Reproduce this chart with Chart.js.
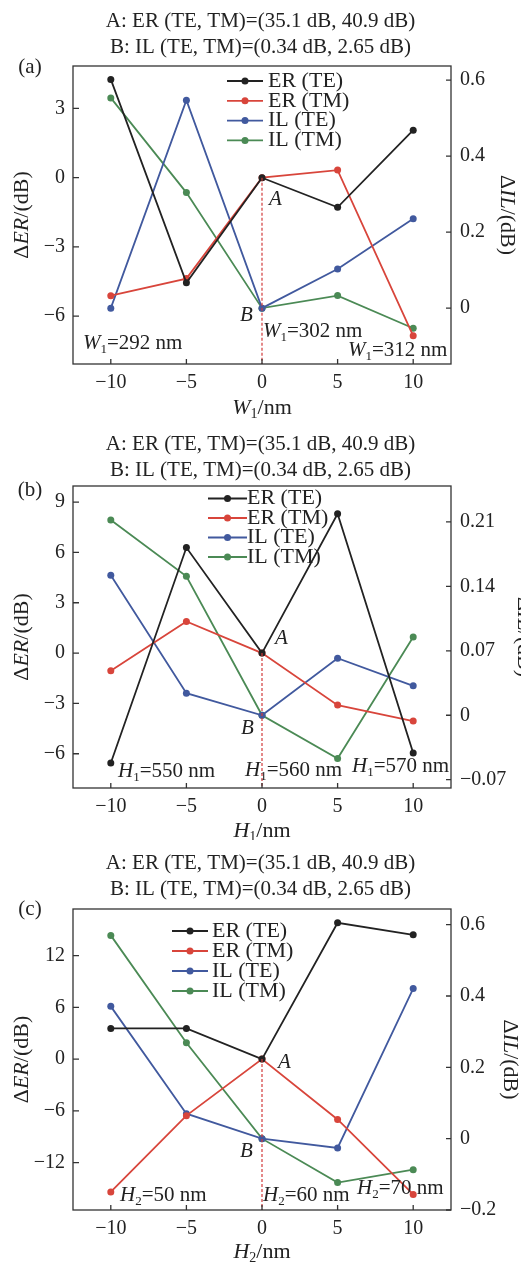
<!DOCTYPE html>
<html>
<head>
<meta charset="utf-8">
<script src="https://cdn.jsdelivr.net/npm/chart.js@4.4.1/dist/chart.umd.min.js"></script>
<style>
  body { margin: 0; background: #fff; }
  .panel { position: relative; width: 521px; }
</style>
</head>
<body>
<div class="panel" style="height:420px"><canvas id="chartA"></canvas></div>
<div class="panel" style="height:420px"><canvas id="chartB"></canvas></div>
<div class="panel" style="height:424px"><canvas id="chartC"></canvas></div>
<script>
// shared x positions (nm offset)
const offsets = [-10, -5, 0, 5, 10];
const seriesNames = ['ER (TE)', 'ER (TM)', 'IL (TE)', 'IL (TM)'];
const titleLines = ['A: ER (TE, TM)=(35.1 dB, 40.9 dB)', 'B: IL (TE, TM)=(0.34 dB, 2.65 dB)'];

// panel (a): W1 sweep
const erTeA = [4.26, -4.55, 0, -1.28, 2.06];
const erTmA = [-5.11, -4.37, 0, 0.33, -6.85];
const ilTeA = [0, 0.547, 0, 0.103, 0.235];
const ilTmA = [0.553, 0.304, 0, 0.033, -0.053];
const erTicksA = [-6, -3, 0, 3];
const ilTicksA = [0, 0.2, 0.4, 0.6];

// panel (b): H1 sweep
const erTeB = [-6.55, 6.29, 0, 8.3, -5.95];
const erTmB = [-1.05, 1.89, 0, -3.1, -4.05];
const ilTeB = [0.152, 0.024, 0, 0.062, 0.032];
const ilTmB = [0.212, 0.151, 0, -0.047, 0.085];
const erTicksB = [-6, -3, 0, 3, 6, 9];
const ilTicksB = [-0.07, 0, 0.07, 0.14, 0.21];

// panel (c): H2 sweep
const erTeC = [3.55, 3.55, 0, 15.8, 14.4];
const erTmC = [-15.4, -6.56, 0, -7.0, -15.7];
const ilTeC = [0.371, 0.070, 0, -0.026, 0.421];
const ilTmC = [0.570, 0.269, 0, -0.123, -0.087];
const erTicksC = [-12, -6, 0, 6, 12];
const ilTicksC = [-0.2, 0, 0.2, 0.4, 0.6];

const xTicks = [-10, -5, 0, 5, 10];

const colors = ['#222222', '#d8453b', '#41599e', '#4b8a55'];
const SERIF = '"Liberation Serif", "Times New Roman", serif';

function fmt(v) {
    const s = String(Math.abs(v));
    return v < 0 ? '\u2212' + s : s;
}

function drawRich(ctx, parts, x, y, size, center) {
    const fontOf = st => (st === 'i' ? 'italic ' : '') + (st === 's' ? Math.round(size * 0.62) : size) + 'px ' + SERIF;
    let w = 0;
    parts.forEach(([t, st]) => { ctx.font = fontOf(st); w += ctx.measureText(t).width; });
    let cx = center ? x - w / 2 : x;
    parts.forEach(([t, st]) => {
        ctx.font = fontOf(st);
        ctx.fillText(t, cx, st === 's' ? y + size * 0.3 : y);
        cx += ctx.measureText(t).width;
    });
}

// frame, inward ticks, legend, titles and labels
const decor = {
    id: 'decor',
    afterDatasetsDraw(chart, args, o) {
        const ctx = chart.ctx;
        const a = chart.chartArea;
        const sx = chart.scales.x, sl = chart.scales.y, sr = chart.scales.y1;
        ctx.save();
        ctx.strokeStyle = '#333';
        ctx.lineWidth = 1.3;
        ctx.beginPath();
        sx.ticks.forEach(t => { const p = sx.getPixelForValue(t.value); ctx.moveTo(p, a.bottom); ctx.lineTo(p, a.bottom - 5); });
        sl.ticks.forEach(t => { const p = sl.getPixelForValue(t.value); ctx.moveTo(a.left, p); ctx.lineTo(a.left + 6, p); });
        sr.ticks.forEach(t => { const p = sr.getPixelForValue(t.value); ctx.moveTo(a.right, p); ctx.lineTo(a.right - 5, p); });
        ctx.stroke();
        ctx.strokeRect(a.left, a.top, a.right - a.left, a.bottom - a.top);

        ctx.fillStyle = '#222';
        ctx.textBaseline = 'middle';
        ctx.textAlign = 'left';

        // legend
        const lg = o.legend;
        seriesNames.forEach((name, i) => {
            const y = lg.y + i * lg.gap;
            ctx.strokeStyle = colors[i];
            ctx.lineWidth = 1.8;
            ctx.beginPath(); ctx.moveTo(lg.x0, y); ctx.lineTo(lg.x1, y); ctx.stroke();
            ctx.fillStyle = colors[i];
            ctx.beginPath(); ctx.arc((lg.x0 + lg.x1) / 2, y, 3.5, 0, Math.PI * 2); ctx.fill();
            ctx.fillStyle = '#222';
            ctx.font = '22px ' + SERIF;
            ctx.fillText(name, lg.tx, y);
        });

        // annotations
        o.notes.forEach(n => drawRich(ctx, n.parts, n.x, n.y, 21, false));
        ctx.font = '21px ' + SERIF;
        ctx.textAlign = 'center';
        ctx.fillText(o.panel, 30, o.panelY);
        ctx.textAlign = 'left';

        // axis titles
        const midY = (a.top + a.bottom) / 2;
        drawRich(ctx, o.xTitle, (a.left + a.right) / 2, o.xTitleY, 22, true);
        ctx.save();
        ctx.translate(o.leftTitleX, midY);
        ctx.rotate(-Math.PI / 2);
        drawRich(ctx, [['\u0394', ''], ['ER', 'i'], ['/(dB)', '']], 0, 0, 22, true);
        ctx.restore();
        ctx.save();
        ctx.translate(o.rightTitleX, midY);
        ctx.rotate(Math.PI / 2);
        drawRich(ctx, [['\u0394', ''], ['IL', 'i'], ['/(dB)', '']], 0, 0, 22, true);
        ctx.restore();
        ctx.restore();
    }
};

function makePanel(id, p) {
    const series = [p.erTe, p.erTm, p.ilTe, p.ilTm];
    const datasets = series.map((vals, i) => ({
        label: seriesNames[i],
        data: offsets.map((x, k) => ({ x, y: vals[k] })),
        yAxisID: i < 2 ? 'y' : 'y1',
        borderColor: colors[i],
        backgroundColor: colors[i],
        borderWidth: 1.8,
        pointRadius: 3.5,
        pointBorderWidth: 0,
        tension: 0,
    }));
    // dashed marker from point A down to the axis
    datasets.unshift({
        label: 'marker',
        data: [{ x: 0, y: 0 }, { x: 0, y: p.erRange[0] }],
        yAxisID: 'y',
        borderColor: '#d23b3b',
        borderWidth: 1.2,
        borderDash: [3, 2],
        pointRadius: 0,
    });

    const tickFont = { family: SERIF, size: 20 };
    new Chart(document.getElementById(id), {
        type: 'line',
        data: { datasets },
        options: {
            responsive: true,
            maintainAspectRatio: false,
            animation: false,
            layout: { padding: 0 },
            plugins: {
                legend: { display: false },
                tooltip: { enabled: false },
                title: {
                    display: true,
                    text: titleLines,
                    color: '#222',
                    font: { family: SERIF, size: 21, weight: 'normal', lineHeight: 26 / 21 },
                    padding: { top: p.titleTop, bottom: p.plotTop - p.titleTop - 52 },
                },
                decor: p.decor,
            },
            scales: {
                x: {
                    type: 'linear',
                    min: -12.5,
                    max: 12.5,
                    afterBuildTicks: s => { s.ticks = xTicks.map(v => ({ value: v })); },
                    afterFit: s => { s.height = p.height - p.plotBottom; },
                    grid: { display: false, drawTicks: false },
                    border: { display: false },
                    ticks: { font: tickFont, color: '#222', padding: 7, callback: fmt },
                },
                y: {
                    position: 'left',
                    min: p.erRange[0],
                    max: p.erRange[1],
                    afterBuildTicks: s => { s.ticks = p.erTicks.map(v => ({ value: v })); },
                    afterFit: s => { s.width = 73; },
                    grid: { display: false, drawTicks: false },
                    border: { display: false },
                    ticks: { font: tickFont, color: '#222', padding: 8, callback: fmt },
                },
                y1: {
                    position: 'right',
                    min: p.ilRange[0],
                    max: p.ilRange[1],
                    afterBuildTicks: s => { s.ticks = p.ilTicks.map(v => ({ value: v })); },
                    afterFit: s => { s.width = 70; },
                    grid: { display: false, drawTicks: false },
                    border: { display: false },
                    ticks: { font: tickFont, color: '#222', padding: 9, callback: fmt },
                },
            },
        },
        plugins: [decor],
    });
}

makePanel('chartA', {
    erTe: erTeA, erTm: erTmA, ilTe: ilTeA, ilTm: ilTmA,
    erRange: [-8.07, 4.84], ilRange: [-0.147, 0.637],
    erTicks: erTicksA, ilTicks: ilTicksA,
    height: 420, plotTop: 66, plotBottom: 364, titleTop: 8.5,
    decor: {
        legend: { x0: 227, x1: 263, tx: 268, y: 81, gap: 19.8 },
        panel: '(a)', panelY: 67,
        xTitle: [['W', 'i'], ['1', 's'], ['/nm', '']], xTitleY: 408,
        leftTitleX: 22, rightTitleX: 507,
        notes: [
            { parts: [['A', 'i']], x: 269, y: 199 },
            { parts: [['B', 'i']], x: 240, y: 315 },
            { parts: [['W', 'i'], ['1', 's'], ['=292 nm', '']], x: 83, y: 343 },
            { parts: [['W', 'i'], ['1', 's'], ['=302 nm', '']], x: 263, y: 331 },
            { parts: [['W', 'i'], ['1', 's'], ['=312 nm', '']], x: 348, y: 350 },
        ],
    },
});

makePanel('chartB', {
    erTe: erTeB, erTm: erTmB, ilTe: ilTeB, ilTm: ilTmB,
    erRange: [-8.04, 9.96], ilRange: [-0.079, 0.249],
    erTicks: erTicksB, ilTicks: ilTicksB,
    height: 420, plotTop: 66, plotBottom: 368, titleTop: 11,
    decor: {
        legend: { x0: 208, x1: 247, tx: 247, y: 78.5, gap: 19.5 },
        panel: '(b)', panelY: 70,
        xTitle: [['H', 'i'], ['1', 's'], ['/nm', '']], xTitleY: 411,
        leftTitleX: 22, rightTitleX: 524,
        notes: [
            { parts: [['A', 'i']], x: 275, y: 218 },
            { parts: [['B', 'i']], x: 241, y: 308 },
            { parts: [['H', 'i'], ['1', 's'], ['=550 nm', '']], x: 118, y: 351 },
            { parts: [['H', 'i'], ['1', 's'], ['=560 nm', '']], x: 245, y: 350 },
            { parts: [['H', 'i'], ['1', 's'], ['=570 nm', '']], x: 352, y: 346 },
        ],
    },
});

makePanel('chartC', {
    erTe: erTeC, erTm: erTmC, ilTe: ilTeC, ilTm: ilTmC,
    erRange: [-17.5, 17.4], ilRange: [-0.2, 0.644],
    erTicks: erTicksC, ilTicks: ilTicksC,
    height: 424, plotTop: 69, plotBottom: 370, titleTop: 10,
    decor: {
        legend: { x0: 172, x1: 208, tx: 212, y: 91, gap: 20 },
        panel: '(c)', panelY: 69,
        xTitle: [['H', 'i'], ['2', 's'], ['/nm', '']], xTitleY: 412,
        leftTitleX: 22, rightTitleX: 510,
        notes: [
            { parts: [['A', 'i']], x: 278, y: 222 },
            { parts: [['B', 'i']], x: 240, y: 311 },
            { parts: [['H', 'i'], ['2', 's'], ['=50 nm', '']], x: 120, y: 355 },
            { parts: [['H', 'i'], ['2', 's'], ['=60 nm', '']], x: 263, y: 355 },
            { parts: [['H', 'i'], ['2', 's'], ['=70 nm', '']], x: 357, y: 348 },
        ],
    },
});
</script>
</body>
</html>
